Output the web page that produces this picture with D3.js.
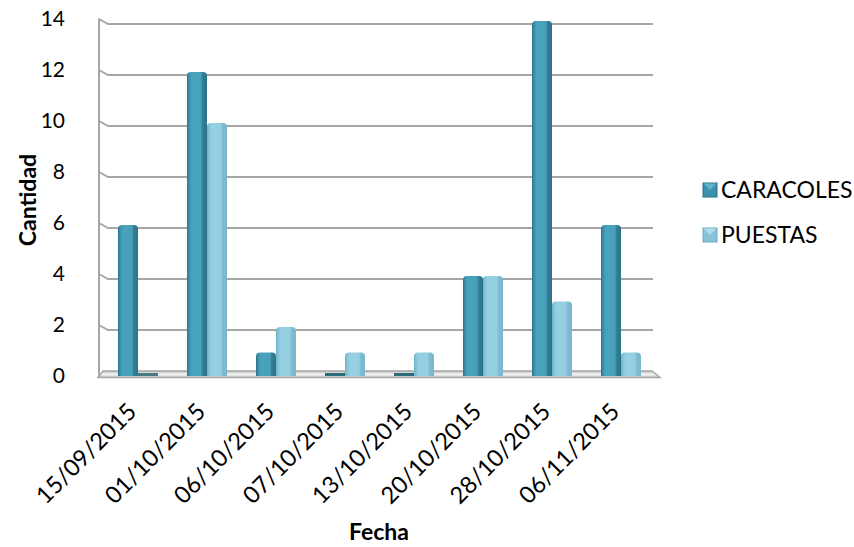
<!DOCTYPE html>
<html><head><meta charset="utf-8">
<script src="https://cdn.jsdelivr.net/npm/d3@7"></script>
<style>html,body{margin:0;padding:0;background:#fff;}svg{display:block;font-family:Lato,"Open Sans",sans-serif;}</style>
</head><body><svg id="c" width="854" height="547"></svg>
<script>
const categories = ["15/09/2015","01/10/2015","06/10/2015","07/10/2015","13/10/2015","20/10/2015","28/10/2015","06/11/2015"];
const seriesNames = ["CARACOLES","PUESTAS"];
const caracoles = [6,12,1,0,0,4,14,6];
const puestas = [0,10,2,1,1,4,3,1];
const yTicks = [0,2,4,6,8,10,12,14];
const yTitle = "Cantidad";
const xTitle = "Fecha";

const svg = d3.select("#c");
const defs = svg.append("defs");
function grad(id, stops){
  const g = defs.append("linearGradient").attr("id",id).attr("x1","0").attr("x2","1").attr("y1","0").attr("y2","0");
  stops.forEach(s=>g.append("stop").attr("offset",s[0]).attr("stop-color",s[1]));
}
grad("gC",[["0%","#2a7088"],["10%","#3a90aa"],["25%","#4aa3bd"],["70%","#47a0ba"],["78%","#337f96"],["100%","#2c7389"]]);
grad("gP",[["0%","#6aaec5"],["10%","#86c4d9"],["25%","#97d0e3"],["70%","#94cee1"],["78%","#7fbcd1"],["100%","#7ab7cc"]]);
const fg = defs.append("linearGradient").attr("id","gF").attr("x1","0").attr("x2","0").attr("y1","0").attr("y2","1");
fg.append("stop").attr("offset","0%").attr("stop-color","#bdbdbd");
fg.append("stop").attr("offset","50%").attr("stop-color","#f4f4f4");
fg.append("stop").attr("offset","100%").attr("stop-color","#c8c8c8");

const y = d3.scaleLinear().domain([0,14]).range([376,19]);
const x = d3.scaleBand().domain(categories).range([103.5,655.5]).padding(0);
const xs = d3.scaleBand().domain(seriesNames).range([14.5,54.5]).padding(0);

const grid = "#a6a6a6";
const gl = svg.append("g");
yTicks.filter(v=>v>0).forEach(v=>{
  const yy = y(v);
  gl.append("path").attr("d",`M99,${yy} L108,${yy+5} H653`).attr("fill","none").attr("stroke",grid).attr("stroke-width",2);
});
const fy = y(0);
svg.append("path").attr("d",`M103,${fy-5} H652 L660,${fy+1.5} H98 Z`).attr("fill","url(#gF)").attr("stroke",grid).attr("stroke-width",1.5);

const ax = svg.append("g").attr("transform","translate(98,0)")
  .call(d3.axisLeft(y).tickValues(yTicks).tickSize(8).tickPadding(25).tickFormat(d3.format("d")));
ax.select(".domain").remove();
ax.selectAll(".tick line").attr("stroke",grid).attr("stroke-width",2).attr("x2",2);
ax.selectAll(".tick text").attr("font-size",21).attr("fill","#000").attr("font-family","Lato");
svg.append("line").attr("x1",99).attr("x2",99).attr("y1",y(14)).attr("y2",fy+1).attr("stroke",grid).attr("stroke-width",2);

const data = [];
categories.forEach((c,i)=>{
  data.push({c, s:"CARACOLES", v:caracoles[i]});
  data.push({c, s:"PUESTAS", v:puestas[i]});
});
function barPath(d){
  const x0 = x(d.c)+xs(d.s), w = xs.bandwidth();
  const bot = fy, top = y(d.v)+2, r = 4;
  return `M${x0},${bot} V${top+r} Q${x0},${top} ${x0+r},${top} H${x0+w-r} Q${x0+w},${top} ${x0+w},${top+r} V${bot} Z`;
}
svg.append("g").selectAll("path").data(data.filter(d=>d.v>0)).join("path")
  .attr("d",barPath)
  .attr("fill",d=>d.s==="CARACOLES"?"url(#gC)":"url(#gP)");
svg.append("g").selectAll("rect").data(data.filter(d=>d.v===0)).join("rect")
  .attr("x",d=>x(d.c)+xs(d.s)).attr("width",xs.bandwidth())
  .attr("y",fy-3).attr("height",3)
  .attr("fill",d=>d.s==="CARACOLES"?"#2d6a7a":"#4a7884");

svg.append("g").selectAll("text").data(categories).join("text")
  .attr("transform",d=>`translate(${x(d)+x.bandwidth()/2},413) rotate(-45)`)
  .attr("text-anchor","end").attr("font-size",23.5).attr("fill","#000")
  .text(d=>d);

svg.append("text").attr("transform","translate(36,200) rotate(-90)").attr("text-anchor","middle")
  .attr("font-size",23).attr("font-weight","bold").text(yTitle);
svg.append("text").attr("x",379).attr("y",540).attr("text-anchor","middle")
  .attr("font-size",23).attr("font-weight","bold").text(xTitle);

const lcol = {CARACOLES:["#3a92ac","#5fb3cb","#2a7088"], PUESTAS:["#86c3d8","#b0dcea","#6aa9be"]};
const lg = svg.append("g").selectAll("g").data(seriesNames).join("g")
  .attr("transform",(d,i)=>`translate(703,${183+i*45})`);
lg.append("rect").attr("width",14).attr("height",14).attr("fill",d=>lcol[d][0]).attr("stroke",d=>lcol[d][2]).attr("stroke-width",1);
lg.append("path").attr("d","M0.5,0.5 H13.5 L7,7 Z").attr("fill",d=>lcol[d][1]);
lg.append("text").attr("x",18).attr("y",14.5).attr("font-size",23).attr("fill","#000").text(d=>d);
</script></body></html>
